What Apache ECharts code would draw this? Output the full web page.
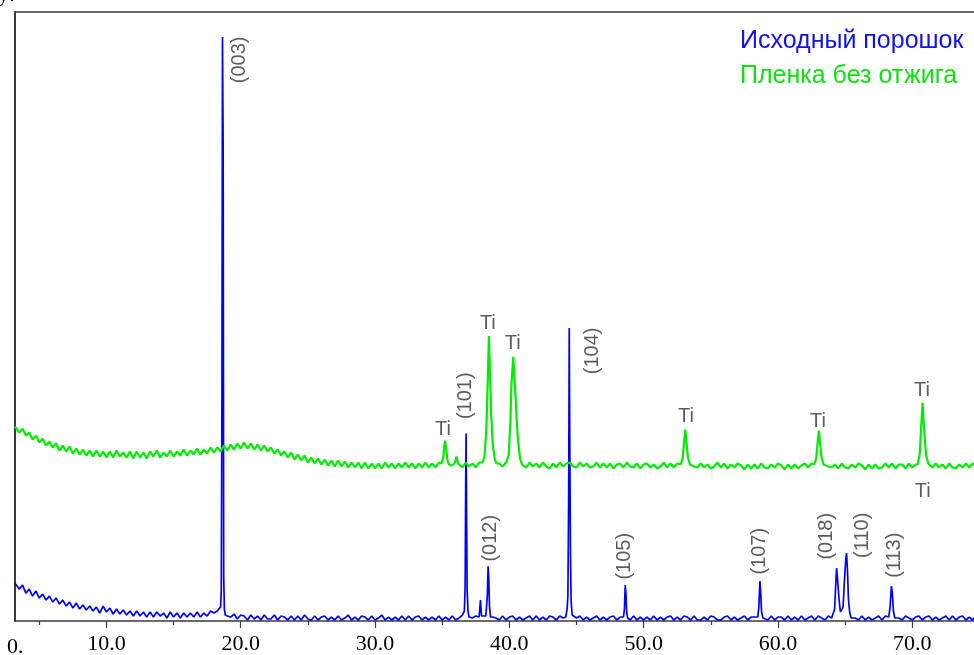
<!DOCTYPE html>
<html>
<head>
<meta charset="utf-8">
<script src="https://cdn.jsdelivr.net/npm/echarts@6/dist/echarts.min.js"></script>
<style>
html,body{margin:0;padding:0;background:#fff;}
#chart{width:974px;height:655px;}
</style>
</head>
<body>
<div id="chart"></div>
<script>
// ---------- DATA ----------
const seriesNames = ['Исходный порошок', 'Пленка без отжига'];

// baseline samples: first sample at 2θ = 3.25°, one every 0.25°
const baseStart = 3.25;
const baseStep = 0.25;

// Исходный порошок (blue) – background
const blueBase = [
  38,32,36,28, 32,25,30,23, 27,21,25,19, 23,17,21,15, 19,13,18,12,
  16,11,15,10, 14,8,15,9, 13,7,12,7, 11,6,10,5, 10,5,9,4,
  9,4,9,5, 8,3,9,4, 8,3,8,4, 8,4,9,4, 8,5,10,8,
  10,13,8,5, 4,7,2,6, 5,1,6,2, 5,1,6,2, 2,6,1,5,
  4,1,5,1, 5,1,6,2, 1,5,1,4, 5,1,4,1, 5,1,3,6,
  1,4,1,5, 4,1,5,1, 3,6,1,4, 1,4,1,5, 1,5,1,4,
  5,1,4,1, 4,1,5,1, 4,1,5,1, 3,6,4,4, 3,5,7,4,
  5,4,4,3, 1,5,1,4, 5,1,4,1, 3,5,1,5, 1,4,1,5,
  4,1,5,3, 5,4,4,3, 5,1,4,1, 3,5,1,4, 1,4,5,1,
  4,5,3,1, 5,1,4,1, 4,1,5,1, 4,1,4,5, 1,4,1,5,
  4,1,5,1, 1,4,1,5, 4,1,1,4, 5,1,4,1, 3,5,1,4,
  4,5,4,3, 1,5,1,4, 4,1,5,1, 4,1,5,1, 3,5,1,5,
  3,1,5,3, 5,6,7,6, 8,4,3,1, 5,1,4,1, 3,5,1,5,
  3,5,4,3, 1,5,3,1, 4,5,1,4, 5,1,4,1, 3,5,1,5,
  1,4,5,1, 4,1,5,1
];
// blue reflections [2θ, intensity]
const bluePeaks = [
  [[18.50,14],[18.55,30],[18.60,230],[18.64,586],[18.69,475],[18.73,45],[18.78,12],[18.85,6]],
  [[36.55,4],[36.65,10],[36.71,35],[36.75,140],[36.78,188],[36.82,100],[36.86,30],[36.92,10],[37.00,4]],
  [[37.75,4],[37.85,21],[37.93,5]],
  [[38.28,5],[38.36,25],[38.42,55],[38.47,42],[38.52,15],[38.60,4]],
  [[44.20,4],[44.30,12],[44.36,25],[44.42,130],[44.46,294],[44.50,180],[44.55,70],[44.60,20],[44.68,6]],
  [[48.50,4],[48.57,12],[48.63,36],[48.68,28],[48.74,8],[48.82,3]],
  [[58.50,4],[58.58,14],[58.66,40],[58.72,28],[58.78,9],[58.88,3]],
  [[64.10,4],[64.22,12],[64.30,35],[64.37,53],[64.45,40],[64.55,22],[64.65,9],[64.74,7],[64.85,14],[64.95,40],[65.05,62],[65.11,68],[65.18,50],[65.25,22],[65.35,8],[65.45,3]],
  [[68.25,4],[68.35,14],[68.45,35],[68.52,28],[68.60,10],[68.70,3]]
];

// Пленка без отжига (green) – background
const greenBase = [
  195,189,193,186, 189,182,186,179, 183,176,180,174, 178,171,176,170, 175,168,173,167,
  172,166,171,165, 171,165,170,164, 170,164,171,165, 169,164,170,163, 170,164,169,163,
  170,165,171,164, 169,165,171,165, 170,166,172,166, 171,167,173,167, 172,168,174,169,
  174,170,176,171, 177,172,178,173, 179,173,178,172, 177,171,176,170, 174,168,172,166,
  170,164,169,162, 167,161,166,159, 164,158,163,157, 162,156,161,155, 161,155,160,154,
  159,154,159,153, 159,153,158,153, 158,153,159,154, 158,153,158,154, 159,154,158,153,
  158,154,159,154, 158,154,159,155, 159,154,156,159, 158,154,159,155, 158,154,159,155,
  159,161,158,155, 158,155,159,156, 158,160,159,157, 154,159,155,158, 154,159,155,153,
  158,154,159,155, 158,159,155,154, 159,155,158,154, 155,159,154,158, 154,158,153,157,
  158,154,159,155, 154,158,153,157, 158,154,157,153, 155,159,154,158, 154,158,155,159,
  160,158,155,154, 158,154,157,153, 155,159,154,158, 153,157,154,158, 156,152,157,153,
  157,153,158,154, 153,157,154,158, 156,152,157,153, 157,153,156,158, 154,158,155,159,
  160,158,155,154, 157,153,158,154, 153,157,154,158, 156,152,157,153, 157,153,154,158,
  154,158,153,157, 157,153,158,154, 157,160,162,158, 157,154,158,154, 157,153,158,154,
  153,157,154,158, 154,158,155,156
];
// green (Ti) reflections [2θ, intensity]
const greenPeaks = [
  [[34.95,158],[35.08,164],[35.16,176],[35.22,181],[35.30,172],[35.40,161],[35.50,157]],
  [[35.95,159],[36.07,165],[36.20,158]],
  [[38.00,159],[38.15,165],[38.28,190],[38.36,225],[38.48,286],[38.56,250],[38.64,210],[38.76,178],[38.92,162],[39.05,158]],
  [[39.80,158],[39.95,166],[40.08,200],[40.15,235],[40.29,265],[40.38,245],[40.50,215],[40.62,185],[40.80,163],[40.95,157]],
  [[52.75,157],[52.90,163],[53.00,178],[53.10,192],[53.20,178],[53.30,164],[53.45,157]],
  [[62.70,157],[62.85,163],[62.95,178],[63.05,191],[63.15,177],[63.25,164],[63.40,157]],
  [[70.40,157],[70.55,166],[70.65,190],[70.77,219],[70.85,200],[70.95,180],[71.05,165],[71.20,158]]
];

// peak annotations: text and anchor [2θ, intensity] of the label centre
const hklLabels = ['(003)','(101)','(104)','(012)','(105)','(107)','(018)','(110)','(113)'];
const hklAnchors = [[19.94,563],[36.70,226],[46.22,271],[38.63,83],[48.61,65],[58.66,70],[63.65,85],[66.33,86],[68.71,66]];
const tiLabels = ['Ti','Ti','Ti','Ti','Ti','Ti','Ti'];
const tiAnchors = [[35.05,192],[38.40,298],[40.26,278],[53.15,205],[62.98,200],[70.72,231],[70.79,130]];

const xMajorTicks = [10,20,30,40,50,60,70];
const xMinorTicks = [5,15,25,35,45,55,65];
const xMin = 3.19, xMax = 74.6;

// ---------- BUILD ----------
function buildSeries(base, peaks) {
  const spans = peaks.map(p => [p[0][0], p[p.length-1][0]]);
  const pts = [];
  base.forEach((v, i) => {
    const x = +(baseStart + i * baseStep).toFixed(2);
    if (spans.some(s => x >= s[0] && x <= s[1])) return;
    pts.push([x, v]);
  });
  peaks.forEach(p => p.forEach(q => pts.push(q)));
  pts.push([xMin, base[0]]);
  pts.sort((a, b) => a[0] - b[0]);
  return pts;
}
const blueData = buildSeries(blueBase, bluePeaks);
const greenData = buildSeries(greenBase, greenPeaks);

const labelFont = 'Liberation Sans, Arial, sans-serif';
const frame = '#3a3a3a';
const chart = echarts.init(document.getElementById('chart'), null, {renderer: 'canvas'});
chart.setOption({
  animation: false,
  backgroundColor: '#ffffff',
  grid: {left: 15, top: 12, right: 0, bottom: 32, show: false},
  legend: {
    orient: 'vertical', left: 735, top: 29, padding: 0,
    itemWidth: 0, itemHeight: 0, itemGap: 10, selectedMode: false,
    textStyle: {fontSize: 25, fontFamily: labelFont, padding: 0},
    data: [
      {name: seriesNames[0], icon: 'none', textStyle: {color: '#1010f0'}},
      {name: seriesNames[1], icon: 'none', textStyle: {color: '#10e010'}}
    ]
  },
  xAxis: [{
    type: 'value', min: xMin, max: xMax, position: 'bottom',
    axisLine: {show: true, onZero: false, lineStyle: {color: frame, width: 1.5}},
    axisTick: {show: true, customValues: xMajorTicks, length: 7, inside: false, lineStyle: {color: frame, width: 1.2}},
    axisLabel: {show: true, customValues: xMajorTicks, margin: 12, color: '#000', fontSize: 22,
      fontFamily: 'Liberation Serif, Times New Roman, serif', formatter: v => v.toFixed(1)},
    splitLine: {show: false}
  }, {
    type: 'value', min: xMin, max: xMax, position: 'bottom',
    axisLine: {show: false},
    axisTick: {show: true, customValues: xMinorTicks, length: 4, lineStyle: {color: frame, width: 1.2}},
    axisLabel: {show: false},
    splitLine: {show: false}
  }, {
    type: 'value', min: xMin, max: xMax, position: 'top',
    axisLine: {show: true, onZero: false, lineStyle: {color: frame, width: 1.5}},
    axisTick: {show: false}, axisLabel: {show: false}, splitLine: {show: false}
  }],
  yAxis: {type: 'value', min: 0, max: 611, position: 'left',
    axisLine: {show: true, onZero: false, lineStyle: {color: frame, width: 2}},
    axisTick: {show: false}, axisLabel: {show: false}, splitLine: {show: false}},
  series: [
    {name: seriesNames[0], type: 'line', xAxisIndex: 0, data: blueData, showSymbol: false, symbol: 'none',
      lineStyle: {color: '#0000ff', width: 1.7}, itemStyle: {color: '#0000ff'}, z: 2},
    {name: seriesNames[1], type: 'line', xAxisIndex: 0, data: greenData, showSymbol: false, symbol: 'none',
      lineStyle: {color: '#00ee00', width: 2.2}, itemStyle: {color: '#00ee00'}, z: 3},
    {name: 'hkl', type: 'scatter', xAxisIndex: 0, symbolSize: 0, silent: true, z: 5,
      data: hklAnchors.map((a, i) => ({value: a, name: hklLabels[i]})),
      label: {show: true, position: 'inside', formatter: p => p.name, rotate: 90, align: 'center', verticalAlign: 'middle',
        color: '#333', fontSize: 20, fontFamily: labelFont}},
    {name: 'ti', type: 'scatter', xAxisIndex: 0, symbolSize: 0, silent: true, z: 5,
      data: tiAnchors.map((a, i) => ({value: a, name: tiLabels[i]})),
      label: {show: true, position: 'inside', formatter: p => p.name, align: 'center', verticalAlign: 'middle',
        color: '#333', fontSize: 20, fontFamily: labelFont}}
  ],
  graphic: [
    {type: 'text', left: 7, top: 636, style: {text: '0.', fontSize: 22, fontFamily: 'Liberation Serif, serif', fill: '#000'}},
    {type: 'text', left: -2, top: -16, style: {text: 'y:', fontSize: 22, fontFamily: 'Liberation Serif, serif', fill: '#000'}}
  ]
});
</script>
</body>
</html>
